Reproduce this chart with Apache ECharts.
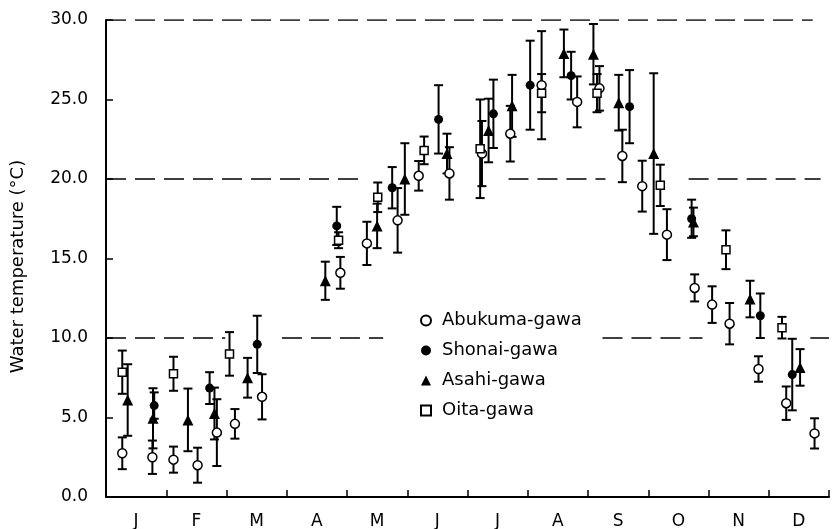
<!DOCTYPE html>
<html>
<head>
<meta charset="utf-8">
<script src="https://cdn.jsdelivr.net/npm/echarts@6/dist/echarts.min.js"></script>
<style>html,body{margin:0;padding:0;background:#fff}#c{width:840px;height:529px}</style>
</head>
<body>
<div id="c"></div>
<script>
// Month labels (x in month units, 0 = 1 Jan, 12 = 31 Dec)
var months = ['J','F','M','A','M','J','J','A','S','O','N','D'];
var yTicks = [0, 5, 10, 15, 20, 25, 30];

// Abukuma-gawa (open circles): x position, mean, SD
var abukumaX    = [0.27, 0.77, 1.12, 1.52, 1.84, 2.14, 2.59, 3.89, 4.33, 4.84, 5.19, 5.70, 6.24, 6.71, 7.23, 7.82, 8.19, 8.57, 8.90, 9.31, 9.77, 10.06, 10.35, 10.83, 11.29, 11.76];
var abukumaMean = [2.75, 2.5, 2.35, 2.0, 4.05, 4.6, 6.3, 14.1, 15.95, 17.4, 20.2, 20.35, 21.6, 22.85, 25.9, 24.85, 25.7, 21.45, 19.55, 16.5, 13.15, 12.1, 10.9, 8.05, 5.9, 4.0];
var abukumaSD   = [1.0, 1.05, 0.82, 1.1, 2.1, 0.93, 1.42, 1.0, 1.36, 2.03, 0.93, 1.65, 2.05, 1.75, 3.4, 1.6, 1.4, 1.65, 1.6, 1.6, 0.85, 1.15, 1.3, 0.8, 1.05, 0.95];

// Shonai-gawa (filled circles)
var shonaiX    = [0.80, 1.72, 2.51, 3.83, 4.75, 5.52, 6.43, 7.04, 7.72, 8.69, 9.72, 10.86, 11.39];
var shonaiMean = [5.75, 6.85, 9.6, 17.05, 19.45, 23.75, 24.1, 25.9, 26.5, 24.55, 17.5, 11.4, 7.7];
var shonaiSD   = [0.83, 1.0, 1.8, 1.2, 1.3, 2.15, 2.15, 2.8, 1.5, 2.3, 1.2, 1.4, 2.25];

// Asahi-gawa (filled triangles)
var asahiX    = [0.36, 0.78, 1.36, 1.80, 2.35, 3.64, 4.50, 4.96, 5.66, 6.35, 6.74, 7.60, 8.09, 8.51, 9.09, 9.75, 10.69, 11.52];
var asahiMean = [6.1, 4.95, 4.85, 5.25, 7.5, 13.6, 17.05, 20.0, 21.6, 23.05, 24.6, 27.9, 27.85, 24.8, 21.6, 17.3, 12.45, 8.15];
var asahiSD   = [2.25, 1.89, 1.97, 1.63, 1.25, 1.2, 1.4, 2.25, 1.25, 2.0, 1.95, 1.5, 1.9, 1.75, 5.05, 0.9, 1.15, 1.15];

// Oita-gawa (open squares)
var oitaX    = [0.27, 1.12, 2.05, 3.86, 4.51, 5.28, 6.21, 7.23, 8.15, 9.20, 10.29, 11.22];
var oitaMean = [7.85, 7.75, 9.0, 16.15, 18.85, 21.8, 21.9, 25.4, 25.4, 19.6, 15.55, 10.65];
var oitaSD   = [1.36, 1.07, 1.37, 0.5, 0.93, 0.87, 3.1, 1.2, 1.2, 1.3, 1.22, 0.68];

// Dashed reference lines: level and [start, end] month spans
var ref30 = [[0, 11.73]];
var ref20 = [[0, 4.19], [6.68, 8.29], [9.67, 11.86]];
var ref10 = [[0, 1.98], [2.92, 4.6], [8.24, 9.9], [11.69, 12]];

var FONT = 'DejaVu Sans';

function zip3(xs, ms, ss) { return xs.map(function (x, i) { return [x, ms[i], ss[i]]; }); }
function zip2(xs, ms) { return xs.map(function (x, i) { return [x, ms[i]]; }); }

function errSeries(name, data) {
  return {
    name: name + ' err', type: 'custom', xAxisIndex: 0, yAxisIndex: 0, silent: true, z: 3,
    data: data,
    renderItem: function (params, api) {
      var x = api.value(0), m = api.value(1), s = api.value(2);
      var top = api.coord([x, m + s]);
      var bot = api.coord([x, m - s]);
      var h = 4.5;
      var st = { stroke: '#000', lineWidth: 2 };
      return {
        type: 'group',
        children: [
          { type: 'line', shape: { x1: top[0], y1: top[1], x2: bot[0], y2: bot[1] }, style: st },
          { type: 'line', shape: { x1: top[0] - h, y1: top[1], x2: top[0] + h, y2: top[1] }, style: st },
          { type: 'line', shape: { x1: bot[0] - h, y1: bot[1], x2: bot[0] + h, y2: bot[1] }, style: st }
        ]
      };
    }
  };
}

function refSeries(level, spans) {
  var d = [];
  spans.forEach(function (s, i) {
    if (i > 0) d.push(['-', '-']);
    d.push([s[0], level]); d.push([s[1], level]);
  });
  return {
    type: 'line', xAxisIndex: 0, silent: true, symbol: 'none', connectNulls: false, z: 1,
    data: d, lineStyle: { color: '#000', width: 1.5, type: [20, 9] }
  };
}

var chart = echarts.init(document.getElementById('c'), null, { renderer: 'canvas' });
chart.setOption({
  animation: false,
  backgroundColor: '#fff',
  textStyle: { fontFamily: FONT },
  grid: { left: 106, right: 11, top: 20, bottom: 32, containLabel: false, outerBoundsMode: 'none' },
  legend: {
    orient: 'vertical', left: 415, top: 305, itemWidth: 10, itemHeight: 10, itemGap: 9,
    textStyle: { fontFamily: FONT, fontSize: 18, color: '#000', lineHeight: 21, padding: [0, 0, 0, 6] },
    data: [
      { name: 'Abukuma-gawa', icon: 'circle' },
      { name: 'Shonai-gawa', icon: 'circle' },
      { name: 'Asahi-gawa', icon: 'triangle' },
      { name: 'Oita-gawa', icon: 'rect' }
    ]
  },
  xAxis: [
    {
      type: 'value', min: 0, max: 12, interval: 1,
      axisLine: { show: true, lineStyle: { color: '#000', width: 2 } },
      axisTick: { show: true, inside: true, length: 7, lineStyle: { color: '#000', width: 1.5 } },
      axisLabel: { show: false }, splitLine: { show: false }
    },
    {
      type: 'category', data: months, boundaryGap: true, position: 'bottom',
      axisLine: { show: false }, axisTick: { show: false },
      axisLabel: { fontFamily: FONT, fontSize: 17, color: '#000', margin: 16 },
      splitLine: { show: false }
    }
  ],
  yAxis: {
    type: 'value', min: 0, max: 30, interval: 5,
    name: 'Water temperature (°C)', nameLocation: 'middle', nameGap: 79,
    nameTextStyle: { fontFamily: FONT, fontSize: 18, color: '#000', padding: [0, 16, 0, 0] },
    axisLine: { show: true, lineStyle: { color: '#000', width: 2 } },
    axisTick: { show: true, inside: true, length: 7, lineStyle: { color: '#000', width: 1.5 } },
    axisLabel: { fontFamily: FONT, fontSize: 17, color: '#000', margin: 18,
      formatter: function (v) { return yTicks.indexOf(v) >= 0 ? v.toFixed(1) : ''; } },
    splitLine: { show: false }
  },
  series: [
    refSeries(30, ref30), refSeries(20, ref20), refSeries(10, ref10),
    errSeries('Abukuma-gawa', zip3(abukumaX, abukumaMean, abukumaSD)),
    errSeries('Shonai-gawa', zip3(shonaiX, shonaiMean, shonaiSD)),
    errSeries('Asahi-gawa', zip3(asahiX, asahiMean, asahiSD)),
    errSeries('Oita-gawa', zip3(oitaX, oitaMean, oitaSD)),
    { name: 'Abukuma-gawa', type: 'scatter', xAxisIndex: 0, symbol: 'circle', symbolSize: 9, z: 5,
      itemStyle: { color: '#fff', borderColor: '#000', borderWidth: 1.5, opacity: 1 },
      data: zip2(abukumaX, abukumaMean) },
    { name: 'Shonai-gawa', type: 'scatter', xAxisIndex: 0, symbol: 'circle', symbolSize: 9, z: 5,
      itemStyle: { color: '#000', opacity: 1 },
      data: zip2(shonaiX, shonaiMean) },
    { name: 'Asahi-gawa', type: 'scatter', xAxisIndex: 0, symbol: 'triangle', symbolSize: 11, z: 5,
      itemStyle: { color: '#000', opacity: 1 },
      data: zip2(asahiX, asahiMean) },
    { name: 'Oita-gawa', type: 'scatter', xAxisIndex: 0, symbol: 'rect', symbolSize: 8, z: 5,
      itemStyle: { color: '#fff', borderColor: '#000', borderWidth: 1.5, opacity: 1 },
      data: zip2(oitaX, oitaMean) }
  ]
});
</script>
</body>
</html>
